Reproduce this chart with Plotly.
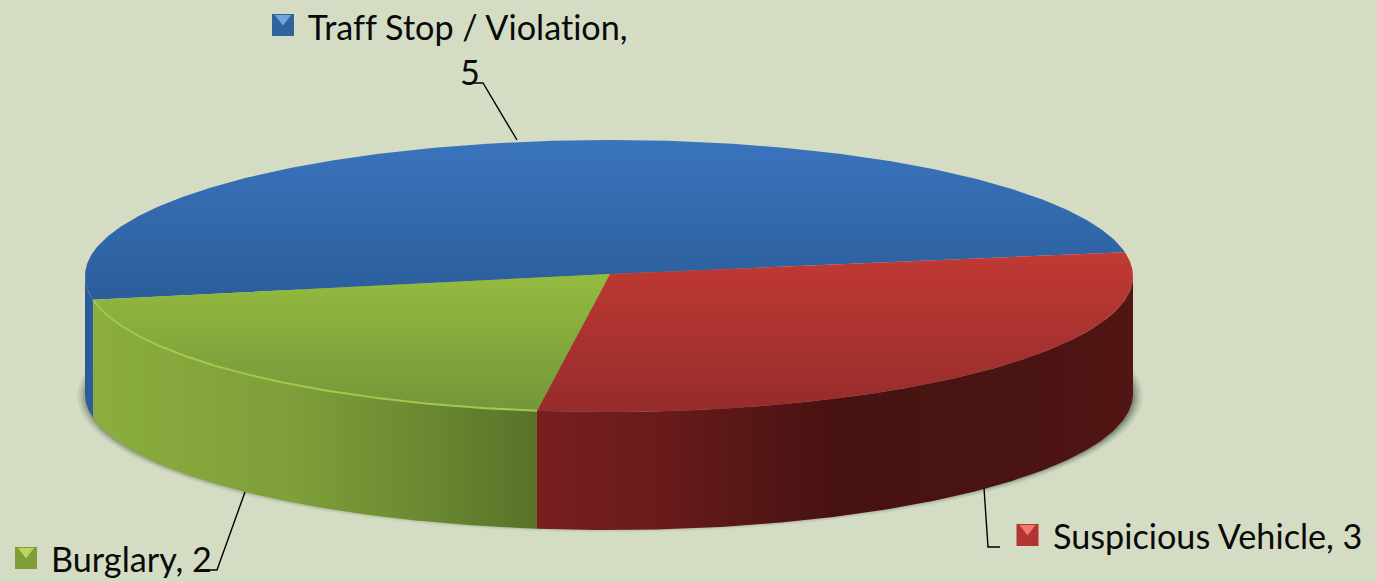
import numpy as np
import plotly.graph_objects as go

categories = ["Traff Stop / Violation", "Suspicious Vehicle", "Burglary"]
values = [5, 3, 2]

W, H = 1377, 582
BG = "#d4ddc4"
CX, CY, RX, RY, DEPTH = 609, 276, 524, 136, 118
APEX_X, APEX_Y = 610, 274
BOUNDARY_DEG = 10.1
TEXT = "#0a0a0a"
FONT = "Lato"
FS = 34.2

fractions = np.array(values, dtype=float) / sum(values)
start = BOUNDARY_DEG + 180.0
edges = start - 360.0 * np.concatenate([[0], np.cumsum(fractions)])


def ex(t):
    return CX + RX * np.cos(np.radians(t))


def ey(t):
    return CY - RY * np.sin(np.radians(t))


fig = go.Figure()


def poly(x, y, **kw):
    fig.add_trace(go.Scatter(x=list(x), y=list(y), mode="lines", fill="toself",
                             line=dict(width=0), hoverinfo="skip", showlegend=False, **kw))


def grad(kind, a, b, stops):
    return dict(type=kind, start=a, stop=b, colorscale=stops)


# soft ground shadow
all_t = np.linspace(0, 360, 361)
for grow, alpha in [(9, 0.06), (7, 0.08), (5, 0.10), (3, 0.16), (1, 0.22)]:
    poly(CX + 1 + (RX + grow) * np.cos(np.radians(all_t)),
         CY + 120 - (RY - 5 + grow * 0.6) * np.sin(np.radians(all_t)),
         fillcolor=f"rgba(55,60,50,{alpha})")

top_grads = {
    0: [[0, "#3a74bd"], [1, "#2b5d9a"]],
    1: [[0, "#c23a34"], [1, "#952c2b"]],
    2: [[0, "#94bb3f"], [1, "#73963a"]],
}
top_span = {0: (140, 300), 1: (250, 412), 2: (275, 412)}
side_grads = {
    0: ((85, 93), [[0, "#2a5a98"], [1, "#2a5f9f"]]),
    1: ((537, 1133), [[0, "#781f1e"], [0.2, "#6a1b1a"], [0.35, "#581616"], [0.5, "#481212"],
                      [0.85, "#4a1412"], [1, "#521614"]]),
    2: ((92, 537), [[0, "#8bae3e"], [0.45, "#7e9f39"], [0.75, "#6b8831"], [1, "#587329"]]),
}

# side walls
for i in range(len(values)):
    a, b = edges[i], edges[i + 1]
    ts = np.linspace(a, b, 300)
    if i == 0:
        ts = np.linspace(a, 180, 30)
    elif i == 1:
        ts = np.linspace(0, b, 200)
    xs = ex(ts)
    ys = ey(ts)
    x = np.concatenate([xs, xs[::-1]])
    y = np.concatenate([ys, ys[::-1] + DEPTH])
    (x0, x1), stops = side_grads[i]
    poly(x, y, fillcolor=stops[0][1], fillgradient=grad("horizontal", x0, x1, stops))

# top faces
for i in range(len(values)):
    ts = np.linspace(edges[i], edges[i + 1], 300)
    x = np.concatenate([[APEX_X], ex(ts), [APEX_X]])
    y = np.concatenate([[APEX_Y], ey(ts), [APEX_Y]])
    y0, y1 = top_span[i]
    poly(x, y, fillcolor=top_grads[i][0][1], fillgradient=grad("vertical", y0, y1, top_grads[i]))

# rim highlight on the front edge of the green slice
ts = np.linspace(edges[2], edges[3], 200)
fig.add_trace(go.Scatter(x=ex(ts), y=ey(ts), mode="lines", hoverinfo="skip", showlegend=False,
                         line=dict(color="#a4c84c", width=2)))

# legend keys
keys = [(283, 25, "#2f639f", "#6ea4e0"), (26, 558, "#7f9e38", "#b9d860"), (1027.5, 535, "#b53330", "#f07a70")]
for kx, ky, base, light in keys:
    fig.add_trace(go.Scatter(x=[kx], y=[ky], mode="markers", hoverinfo="skip", showlegend=False,
                             marker=dict(symbol="square", size=22, color=base, line=dict(width=0))))
    fig.add_trace(go.Scatter(x=[kx], y=[ky - 6.5], mode="markers", hoverinfo="skip", showlegend=False,
                             marker=dict(symbol="triangle-down", size=14, color=light, line=dict(width=0))))

labels = [
    dict(x=308, y=26, text=f"{categories[0]},", anchor="left"),
    dict(x=470, y=71, text=f"{values[0]}", anchor="center"),
    dict(x=51, y=558, text=f"{categories[2]}, {values[2]}", anchor="left"),
    dict(x=1053, y=535, text=f"{categories[1]}, {values[1]}", anchor="left"),
]
annotations = [dict(x=l["x"], y=l["y"], text=l["text"], xref="x", yref="y", showarrow=False,
                    xanchor=l["anchor"], yanchor="middle", borderpad=0, borderwidth=0,
                    font=dict(family=FONT, size=FS, color=TEXT)) for l in labels]

leaders = [
    "M 468 83 L 483 83 L 517 140",
    "M 205 570 L 217 570 L 245 492",
    "M 984 488 L 988 547 L 1000 547",
]
shapes = [dict(type="path", path=p, xref="x", yref="y", line=dict(color="#000000", width=1.4)) for p in leaders]

fig.update_layout(
    width=W, height=H, margin=dict(l=0, r=0, t=0, b=0), autosize=False,
    paper_bgcolor=BG, plot_bgcolor=BG, showlegend=False,
    xaxis=dict(range=[0, W], visible=False, fixedrange=True),
    yaxis=dict(range=[H, 0], visible=False, fixedrange=True),
    annotations=annotations, shapes=shapes,
)
fig.write_html(
    "out.html", config=dict(displayModeBar=False),
    post_script=(
        "document.body.style.margin='0';document.body.style.overflow='hidden';"
        "var s=document.createElement('style');"
        "s.textContent='svg text{font-variant-ligatures:none !important;font-feature-settings:\"liga\" 0 !important;}';"
        "document.head.appendChild(s);"
    ),
)
